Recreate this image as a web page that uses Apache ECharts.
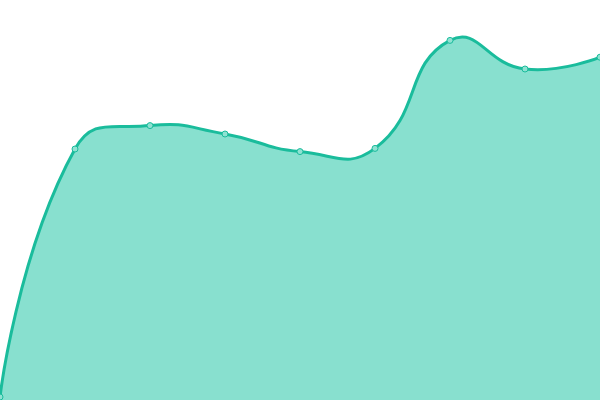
<!DOCTYPE html>
<html>
<head>
    <meta charset="UTF-8">
    <script src="https://cdn.jsdelivr.net/npm/echarts@6/dist/echarts.min.js"></script>
    <style>
        html, body { margin: 0; padding: 0; background: #fff; }
    </style>
</head>
<body>
    <div id="main" style="width: 600px;height:400px;"></div>
    <script type="text/javascript">
        // 数据
        var categories = ['1', '2', '3', '4', '5', '6', '7', '8', '9'];
        var values = [0.75, 62.75, 68.6, 66.5, 62.1, 62.9, 89.9, 82.75, 85.7];

        var lineColor = '#1abc9c';
        var areaColor = '#88e0cf';
        var smooth = 0.5;

        // 平滑曲线（不做控制点约束）
        function buildPath(pts) {
            var d = 'M' + pts[0][0] + ' ' + pts[0][1];
            var cp0 = pts[0];
            for (var i = 1; i < pts.length; i++) {
                var p = pts[i];
                var cpIn = p, cpOut = p;
                if (i < pts.length - 1) {
                    var prev = pts[i - 1], next = pts[i + 1];
                    var vx = next[0] - prev[0], vy = next[1] - prev[1];
                    var lenPrev = Math.hypot(p[0] - prev[0], p[1] - prev[1]);
                    var lenNext = Math.hypot(next[0] - p[0], next[1] - p[1]);
                    var ratio = lenNext / (lenNext + lenPrev);
                    cpIn = [p[0] - vx * smooth * (1 - ratio), p[1] - vy * smooth * (1 - ratio)];
                    cpOut = [p[0] + vx * smooth * ratio, p[1] + vy * smooth * ratio];
                }
                d += ' C' + cp0[0] + ' ' + cp0[1] + ' ' + cpIn[0] + ' ' + cpIn[1] + ' ' + p[0] + ' ' + p[1];
                cp0 = cpOut;
            }
            return d;
        }

        var myChart = echarts.init(document.getElementById('main'));

        var option = {
            animation: false,
            grid: { left: 0, right: 0, top: 0, bottom: 0 },
            xAxis: {
                type: 'category',
                boundaryGap: false,
                data: categories,
                show: false
            },
            yAxis: {
                type: 'value',
                min: 0,
                max: 100,
                show: false
            },
            series: [{
                type: 'custom',
                z: 2,
                data: values.map(function (v, i) { return [i, v]; }),
                renderItem: function (params, api) {
                    if (params.dataIndex !== 0) return null;
                    var pts = values.map(function (v, i) { return api.coord([i, v]); });
                    var base = api.coord([0, 0])[1];
                    var linePath = buildPath(pts);
                    var areaPath = linePath + ' L' + pts[pts.length - 1][0] + ' ' + base +
                        ' L' + pts[0][0] + ' ' + base + ' Z';
                    return {
                        type: 'group',
                        children: [{
                            type: 'path',
                            shape: { pathData: areaPath },
                            style: { fill: areaColor, stroke: null }
                        }, {
                            type: 'path',
                            shape: { pathData: linePath },
                            style: { fill: null, stroke: lineColor, lineWidth: 3 }
                        }]
                    };
                }
            }, {
                type: 'line',
                z: 3,
                data: values,
                symbol: 'circle',
                symbolSize: 6,
                lineStyle: { width: 0, opacity: 0 },
                itemStyle: { color: '#8fe2d2', borderColor: lineColor, borderWidth: 1 }
            }]
        };

        myChart.setOption(option);
    </script>
</body>
</html>
